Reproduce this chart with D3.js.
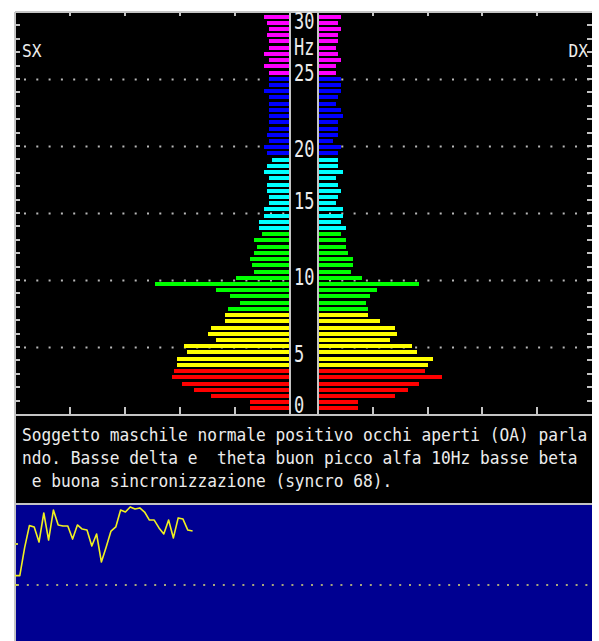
<!DOCTYPE html>
<html>
<head>
<meta charset="utf-8">
<script src="https://cdn.jsdelivr.net/npm/d3@7"></script>
<style>
  html, body { margin: 0; padding: 0; background: #ffffff; }
  svg { display: block; }
  text { font-family: "DejaVu Sans Mono", "Liberation Mono", monospace; white-space: pre; }
</style>
</head>
<body>
<svg id="chart" width="599" height="641"></svg>
<script>
// Spectrum bins, lowest frequency first (64 bins from 0 to 30 Hz).
// Values in display units (10 units per horizontal division).
const leftValues = [
  7.3, 7.3, 14.4, 17.5, 19.6, 21.5, 21.1,
  20.5, 20.5, 18.7, 19.3, 13.5, 14.9, 14.4, 11.8, 11.8,
  11.3, 9.1, 10.9, 13.5, 24.5, 9.8, 6.5, 6.9, 7.3, 6.5, 6.0, 6.5, 5.1,
  5.6, 5.6, 4.7, 4.7, 3.8, 3.8, 4.2, 4.2, 3.8, 4.7, 4.2, 3.3,
  4.2, 4.7, 3.8, 4.2, 3.8, 3.8, 3.8, 3.8, 3.8, 3.8, 4.7, 3.8, 3.8,
  3.8, 4.7, 3.8, 4.7, 3.8, 3.8, 4.2, 3.8, 4.2, 4.7
];
const rightValues = [
  7.3, 7.3, 14.0, 16.5, 18.4, 22.7, 19.6,
  20.0, 20.9, 18.0, 17.1, 13.1, 14.4, 14.0, 11.3, 9.1,
  9.1, 8.7, 9.5, 10.7, 18.4, 8.0, 6.0, 6.4, 6.4, 5.5, 5.1, 5.1, 4.2,
  5.1, 4.2, 4.5, 4.5, 3.3, 3.6, 4.2, 3.6, 3.3, 4.5, 3.6, 3.6,
  3.6, 4.2, 2.7, 3.6, 3.6, 3.6, 4.5, 4.2, 3.3, 3.6, 4.2, 4.2, 4.2,
  3.3, 3.3, 4.2, 3.6, 3.3, 3.6, 3.6, 4.2, 3.6, 4.2
];

// EEG bands: how many consecutive bins each one covers, and its colour
const bandNames = ["delta", "theta", "alfa", "beta1", "beta2", "beta3"];
const bandBinCounts = [7, 9, 13, 12, 13, 10];
const bandColors = ["#ff0000", "#ffff00", "#00ff00", "#00ffff", "#0000ff", "#ff00ff"];

const hzTicks = [0, 5, 10, 15, 20, 25, 30];
const hzUnit = "Hz";
const ampTicks = [10, 20, 30, 40];
const sideLabels = ["SX", "DX"];

const captionLines = [
  "Soggetto maschile normale positivo occhi aperti (OA) parla",
  "ndo. Basse delta e  theta buon picco alfa 10Hz basse beta",
  " e buona sincronizzazione (syncro 68)."
];

// Synchronisation index per epoch
const syncroValues = [
  55.7, 55.7, 72.6, 86.2, 85.4, 76.2, 93.9, 77.4, 95.7, 86.6,
  86.0, 86.0, 78.0, 86.6, 84.1, 83.5, 73.8, 81.1, 64.0, 73.2,
  82.9, 85.4, 95.7, 94.5, 97.6, 96.3, 97.0, 94.5, 89.6, 89.6,
  84.8, 81.1, 89.6, 78.7, 90.9, 90.2, 83.5, 82.9
];
const syncroTicks = [75, 50];

// ---------------------------------------------------------------
const svg = d3.select("#chart");
const frame = { left: 15, right: 592, top: 12, bottom: 414 };
const centre = { left: 290, right: 318 };
const gridGray = "#c4c4c4";
const textColor = "#ececec";

// panels
svg.append("rect").attr("x", frame.left).attr("y", frame.top)
  .attr("width", frame.right - frame.left).attr("height", 504 - frame.top)
  .attr("fill", "#000000");
svg.append("rect").attr("x", frame.left).attr("y", 504)
  .attr("width", frame.right - frame.left).attr("height", 641 - 504)
  .attr("fill", "#000091");

// scales
const yHz = d3.scaleLinear().domain([0, 30]).range([frame.bottom, frame.top]);
const xLeft = d3.scaleLinear().domain([0, 50]).range([centre.left, frame.left]);
const xRight = d3.scaleLinear().domain([0, 50]).range([centre.right, frame.right]);
const nBins = leftValues.length;
const yBin = d3.scaleBand().domain(d3.range(nBins)).range([411.5, 13.5]);
const barH = 4;

const binColor = [];
bandBinCounts.forEach((n, b) => { for (let k = 0; k < n; k++) binColor.push(bandColors[b]); });

// dotted grid every 5 Hz (behind the bars)
const grid = svg.append("g");
hzTicks.filter(v => v > 0 && v < 30).forEach(v => {
  const y = Math.round(yHz(v)) + 0.5;
  grid.append("line").attr("x1", frame.left + 9).attr("x2", centre.left - 1)
    .attr("y1", y).attr("y2", y)
    .attr("stroke", "#b8b8b8").attr("stroke-width", 2).attr("stroke-dasharray", "2,10.3");
  grid.append("line").attr("x1", centre.right + 11).attr("x2", frame.right)
    .attr("y1", y).attr("y2", y)
    .attr("stroke", "#b8b8b8").attr("stroke-width", 2).attr("stroke-dasharray", "2,10.3");
});

// bars
const bars = svg.append("g").attr("shape-rendering", "crispEdges");
const barY = i => Math.round(yBin(i) + yBin.bandwidth() / 2 - barH / 2);
bars.selectAll("rect.l").data(leftValues).join("rect").attr("class", "l")
  .attr("x", d => xLeft(d)).attr("width", d => xLeft(0) - 1 - xLeft(d))
  .attr("y", (d, i) => barY(i)).attr("height", barH)
  .attr("fill", (d, i) => binColor[i]);
bars.selectAll("rect.r").data(rightValues).join("rect").attr("class", "r")
  .attr("x", xRight(0) + 1).attr("width", d => xRight(d) - xRight(0) - 1)
  .attr("y", (d, i) => barY(i)).attr("height", barH)
  .attr("fill", (d, i) => binColor[i]);

// frame lines
const lines = svg.append("g").attr("stroke", gridGray).attr("shape-rendering", "crispEdges");
lines.append("line").attr("x1", frame.left).attr("x2", frame.right).attr("y1", frame.top).attr("y2", frame.top).attr("stroke-width", 1.5);
lines.append("line").attr("x1", frame.left).attr("x2", frame.left).attr("y1", frame.top).attr("y2", 641).attr("stroke-width", 2);
lines.append("line").attr("x1", frame.left).attr("x2", frame.right).attr("y1", 415).attr("y2", 415).attr("stroke-width", 2.5);
lines.append("line").attr("x1", frame.left).attr("x2", frame.right).attr("y1", 504).attr("y2", 504).attr("stroke-width", 2);
lines.append("line").attr("x1", centre.left).attr("x2", centre.left).attr("y1", frame.top).attr("y2", frame.bottom).attr("stroke-width", 2);
lines.append("line").attr("x1", centre.right).attr("x2", centre.right).attr("y1", frame.top).attr("y2", frame.bottom).attr("stroke-width", 2);

// 1 Hz ticks on both outer edges
d3.range(1, 30).forEach(v => {
  const y = Math.round(yHz(v));
  lines.append("line").attr("x1", frame.left).attr("x2", frame.left + 5).attr("y1", y).attr("y2", y).attr("stroke-width", 1.5);
  lines.append("line").attr("x1", frame.right - 5).attr("x2", frame.right).attr("y1", y).attr("y2", y).attr("stroke-width", 1.5);
});
// amplitude ticks, top and bottom
[xLeft, xRight].forEach(sc => {
  ampTicks.forEach(v => {
    const x = Math.round(sc(v));
    lines.append("line").attr("x1", x).attr("x2", x).attr("y1", frame.top).attr("y2", frame.top + 4).attr("stroke-width", 1.5);
    lines.append("line").attr("x1", x).attr("x2", x).attr("y1", frame.bottom - 7).attr("y2", frame.bottom).attr("stroke-width", 2);
  });
});

// Hz labels in the centre column, snapped to the text-cell grid
const cellH = 25.6;
const rowOf = v => Math.floor((yHz(v) - frame.top) / cellH);
const hzLabel = (txt, row) => svg.append("text")
  .attr("transform", `translate(294,${frame.top + 9 + row * cellH + 8.3}) scale(1,1.35)`)
  .attr("font-size", 17).attr("fill", textColor).text(txt);
hzTicks.forEach(v => hzLabel(String(v), rowOf(v)));
hzLabel(hzUnit, 1);

// side labels
svg.append("text").attr("transform", "translate(22,57) scale(1,1.1)")
  .attr("font-size", 16.2).attr("fill", textColor).text(sideLabels[0]);
svg.append("text").attr("transform", "translate(588,57) scale(1,1.1)")
  .attr("font-size", 16.2).attr("fill", textColor).attr("text-anchor", "end").text(sideLabels[1]);

// caption
captionLines.forEach((t, i) => {
  svg.append("text").attr("transform", `translate(22,${441 + i * 23}) scale(1,1.1)`)
    .attr("font-size", 16.2).attr("fill", textColor).text(t);
});

// synchronisation trace
const xEpoch = d3.scaleLinear().domain([0, 120]).range([frame.left, frame.right - 1]);
const ySync = d3.scaleLinear().domain([0, 100]).range([667, 503]);
svg.append("line").attr("x1", frame.left + 2).attr("x2", frame.right)
  .attr("y1", ySync(50)).attr("y2", ySync(50))
  .attr("stroke", "#a9a77a").attr("stroke-width", 2).attr("stroke-dasharray", "2,7.8");
syncroTicks.forEach(v => {
  svg.append("line").attr("x1", frame.left).attr("x2", frame.left + 3)
    .attr("y1", ySync(v)).attr("y2", ySync(v)).attr("stroke", "#c8c850").attr("stroke-width", 2);
});
svg.append("path").datum(syncroValues)
  .attr("d", d3.line().x((d, i) => xEpoch(i)).y(d => ySync(d)))
  .attr("fill", "none").attr("stroke", "#f0f020").attr("stroke-width", 1.6)
  .attr("stroke-linejoin", "round");
</script>
</body>
</html>
